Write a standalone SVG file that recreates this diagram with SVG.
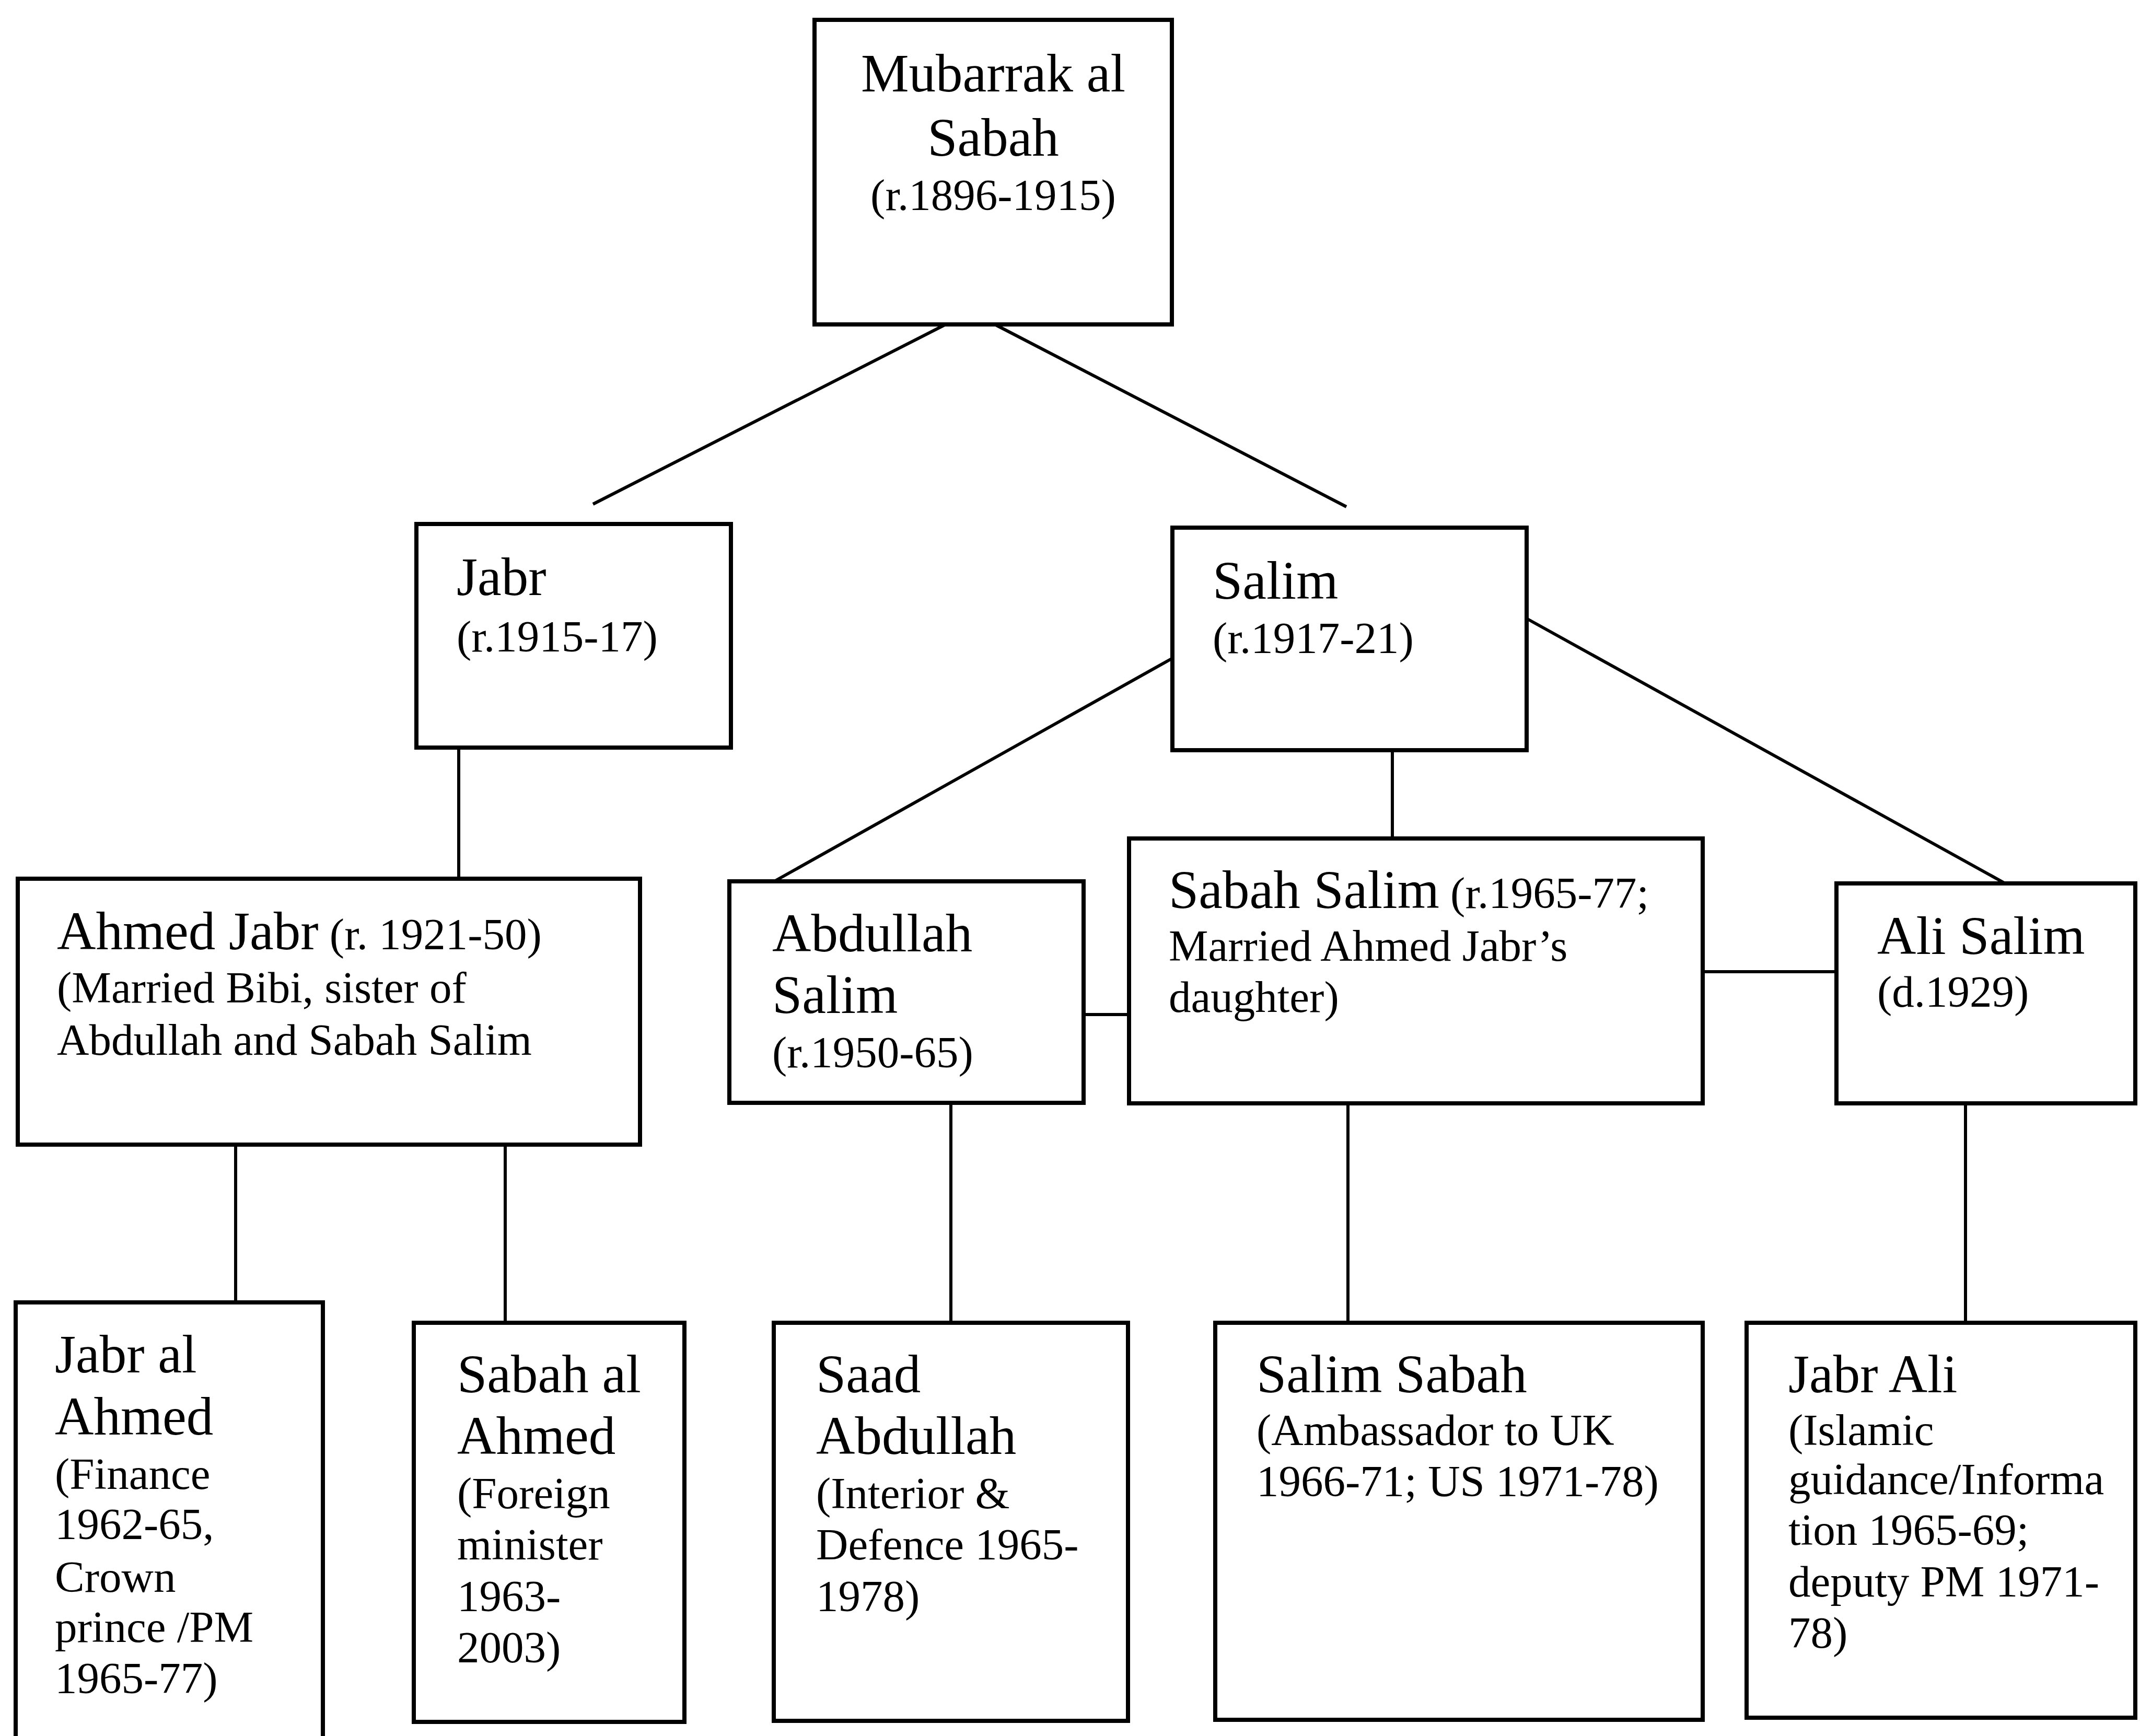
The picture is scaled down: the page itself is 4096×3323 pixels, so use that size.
<svg xmlns="http://www.w3.org/2000/svg" width="4096" height="3323" viewBox="0 0 4096 3323">
<style>
rect.box{fill:#fff;stroke:#000;stroke-width:8}
#connectors line{stroke:#000;stroke-width:6;stroke-linecap:butt}
text{font-family:"Liberation Serif","Times New Roman",serif;fill:#000}
.big{font-size:103px}
.sm{font-size:85px}
</style>
<rect x="0" y="0" width="4096" height="3323" fill="#fff"/>
<g id="connectors">
<line x1="1810" y1="621" x2="1135" y2="965"/>
<line x1="1904" y1="621" x2="2577" y2="970"/>
<line x1="878" y1="1431" x2="878" y2="1682"/>
<line x1="2244" y1="1260" x2="1482" y2="1687"/>
<line x1="2665" y1="1436" x2="2665" y2="1605"/>
<line x1="2922" y1="1184" x2="3838" y2="1691"/>
<line x1="2074" y1="1942" x2="2161" y2="1942"/>
<line x1="3259" y1="1860" x2="3515" y2="1860"/>
<line x1="451" y1="2191" x2="451" y2="2493"/>
<line x1="967" y1="2191" x2="967" y2="2532"/>
<line x1="1820" y1="2111" x2="1820" y2="2532"/>
<line x1="2580" y1="2112" x2="2580" y2="2532"/>
<line x1="3762" y1="2112" x2="3762" y2="2532"/>
</g>
<g id="mubarrak">
<rect class="box" x="1559" y="38" width="684" height="583"/>
<text class="big" x="1901" y="175" text-anchor="middle">Mubarrak al</text>
<text class="big" x="1901" y="298" text-anchor="middle">Sabah</text>
<text class="sm" x="1901" y="402" text-anchor="middle">(r.1896-1915)</text>
</g>
<g id="jabr">
<rect class="box" x="797" y="1003" width="602" height="428"/>
<text class="big" x="874" y="1139">Jabr</text>
<text class="sm" x="874" y="1247">(r.1915-17)</text>
</g>
<g id="salim">
<rect class="box" x="2244" y="1010" width="678" height="426"/>
<text class="big" x="2321" y="1146">Salim</text>
<text class="sm" x="2321" y="1250">(r.1917-21)</text>
</g>
<g id="ahmed-jabr">
<rect class="box" x="34" y="1682" width="1191" height="509"/>
<text x="109" y="1817"><tspan class="big">Ahmed Jabr</tspan><tspan class="sm"> (r. 1921-50)</tspan></text>
<text class="sm" x="109" y="1919">(Married Bibi, sister of</text>
<text class="sm" x="109" y="2019">Abdullah and Sabah Salim</text>
</g>
<g id="abdullah-salim">
<rect class="box" x="1396" y="1687" width="678" height="424"/>
<text class="big" x="1478" y="1821">Abdullah</text>
<text class="big" x="1478" y="1939">Salim</text>
<text class="sm" x="1478" y="2043">(r.1950-65)</text>
</g>
<g id="sabah-salim">
<rect class="box" x="2161" y="1605" width="1098" height="507"/>
<text x="2237" y="1738"><tspan class="big">Sabah Salim</tspan><tspan class="sm"> (r.1965-77;</tspan></text>
<text class="sm" x="2237" y="1839">Married Ahmed Jabr’s</text>
<text class="sm" x="2237" y="1937">daughter)</text>
</g>
<g id="ali-salim">
<rect class="box" x="3515" y="1691" width="572" height="421"/>
<text class="big" x="3593" y="1826">Ali Salim</text>
<text class="sm" x="3593" y="1927">(d.1929)</text>
</g>
<g id="jabr-al-ahmed">
<rect class="box" x="30" y="2493" width="588" height="900"/>
<text class="big" x="105" y="2627">Jabr al</text>
<text class="big" x="105" y="2746">Ahmed</text>
<text class="sm" x="105" y="2850">(Finance</text>
<text class="sm" x="105" y="2946">1962-65,</text>
<text class="sm" x="105" y="3047">Crown</text>
<text class="sm" x="105" y="3143">prince /PM</text>
<text class="sm" x="105" y="3241">1965-77)</text>
</g>
<g id="sabah-al-ahmed">
<rect class="box" x="792" y="2532" width="518" height="764"/>
<text class="big" x="875" y="2665">Sabah al</text>
<text class="big" x="875" y="2783">Ahmed</text>
<text class="sm" x="875" y="2887">(Foreign</text>
<text class="sm" x="875" y="2985">minister</text>
<text class="sm" x="875" y="3084">1963-</text>
<text class="sm" x="875" y="3182">2003)</text>
</g>
<g id="saad-abdullah">
<rect class="box" x="1481" y="2532" width="678" height="762"/>
<text class="big" x="1562" y="2665">Saad</text>
<text class="big" x="1562" y="2783">Abdullah</text>
<text class="sm" x="1562" y="2887">(Interior &amp;</text>
<text class="sm" x="1562" y="2985">Defence 1965-</text>
<text class="sm" x="1562" y="3084">1978)</text>
</g>
<g id="salim-sabah">
<rect class="box" x="2326" y="2532" width="933" height="760"/>
<text class="big" x="2405" y="2665">Salim Sabah</text>
<text class="sm" x="2405" y="2766">(Ambassador to UK</text>
<text class="sm" x="2405" y="2864">1966-71; US 1971-78)</text>
</g>
<g id="jabr-ali">
<rect class="box" x="3343" y="2532" width="744" height="756"/>
<text class="big" x="3423" y="2665">Jabr Ali</text>
<text class="sm" x="3423" y="2766">(Islamic</text>
<text class="sm" x="3423" y="2860">guidance/Informa</text>
<text class="sm" x="3423" y="2957">tion 1965-69;</text>
<text class="sm" x="3423" y="3056">deputy PM 1971-</text>
<text class="sm" x="3423" y="3154">78)</text>
</g>
</svg>
